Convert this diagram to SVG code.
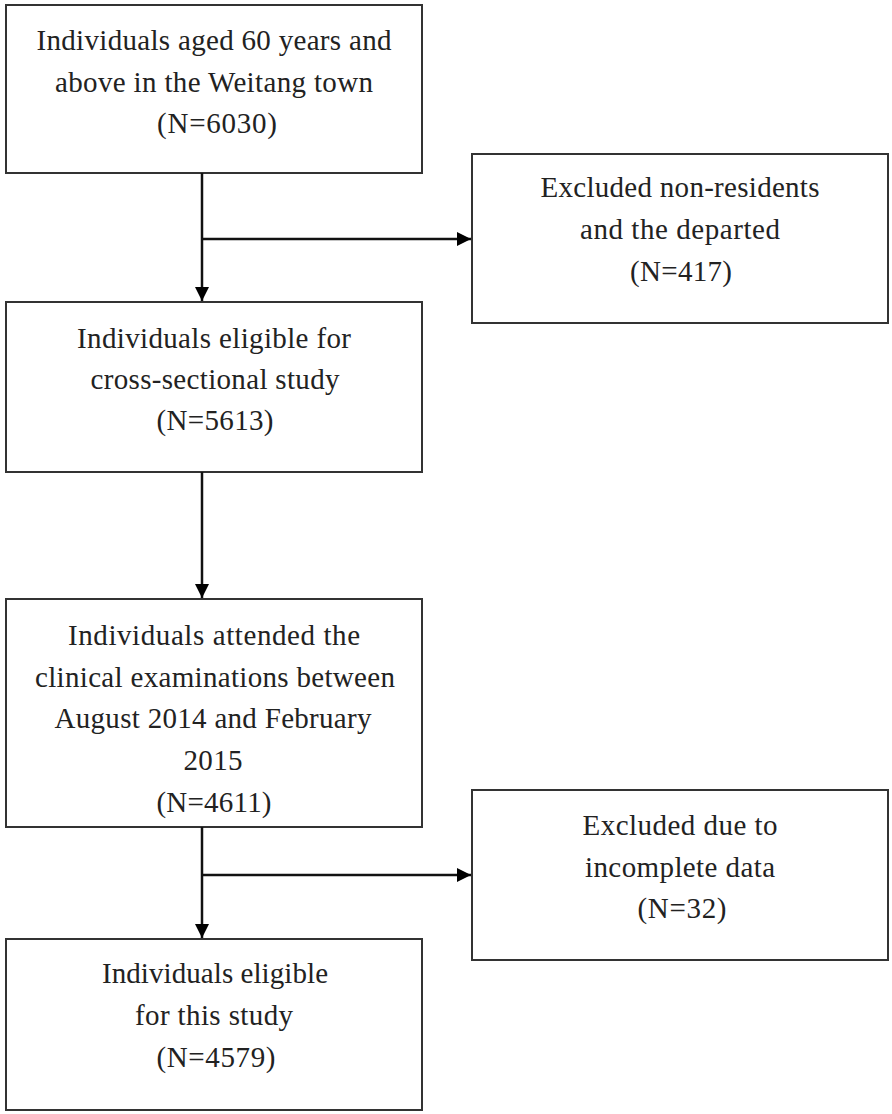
<svg xmlns="http://www.w3.org/2000/svg" width="892" height="1114" viewBox="0 0 892 1114">
<defs>
<marker id="arr" markerWidth="14" markerHeight="14" refX="14" refY="7" orient="auto" markerUnits="userSpaceOnUse">
<path d="M0,0 L14,7 L0,14 Z" fill="#000"/>
</marker>
<style>
.box{fill:#fff;stroke:#333;stroke-width:2}
.t{font-family:"Liberation Serif","Times New Roman",serif;font-size:29px;fill:#222;text-anchor:middle}
.c{fill:none;stroke:#111;stroke-width:2.5}
</style>
</defs>
<rect width="892" height="1114" fill="#fff"/>
<g id="n1"><rect class="box" x="6" y="5" width="416" height="168"/>
<text class="t" x="214" y="50" textLength="355">Individuals aged 60 years and</text>
<text class="t" x="214" y="92" textLength="318">above in the Weitang town</text>
<text class="t" x="217" y="133" textLength="120">(N=6030)</text></g>
<g id="n2"><rect class="box" x="472" y="154" width="416" height="169"/>
<text class="t" x="680" y="197" textLength="279">Excluded non-residents</text>
<text class="t" x="680" y="239" textLength="200">and the departed</text>
<text class="t" x="681" y="281" textLength="102">(N=417)</text></g>
<g id="n3"><rect class="box" x="6" y="302" width="416" height="170"/>
<text class="t" x="214" y="348" textLength="274">Individuals eligible  for</text>
<text class="t" x="215" y="389" textLength="249">cross-sectional  study</text>
<text class="t" x="215" y="430" textLength="117">(N=5613)</text></g>
<g id="n4"><rect class="box" x="6" y="599" width="416" height="228"/>
<text class="t" x="214" y="645" textLength="292">Individuals attended the</text>
<text class="t" x="215" y="687" textLength="360">clinical  examinations  between</text>
<text class="t" x="213" y="728" textLength="317">August 2014 and February</text>
<text class="t" x="213" y="770" textLength="59">2015</text>
<text class="t" x="214" y="812" textLength="115">(N=4611)</text></g>
<g id="n5"><rect class="box" x="472" y="790" width="416" height="170"/>
<text class="t" x="680" y="835" textLength="195">Excluded due to</text>
<text class="t" x="680" y="877" textLength="190">incomplete data</text>
<text class="t" x="682" y="918" textLength="89">(N=32)</text></g>
<g id="n6"><rect class="box" x="6" y="939" width="416" height="171"/>
<text class="t" x="215" y="983" textLength="226">Individuals eligible</text>
<text class="t" x="214" y="1025" textLength="158">for this study</text>
<text class="t" x="216" y="1067" textLength="119">(N=4579)</text></g>
<g id="connectors">
<line class="c" x1="202" y1="173" x2="202" y2="301" marker-end="url(#arr)"/>
<line class="c" x1="202" y1="239" x2="471" y2="239" marker-end="url(#arr)"/>
<line class="c" x1="202" y1="472" x2="202" y2="598" marker-end="url(#arr)"/>
<line class="c" x1="202" y1="827" x2="202" y2="938" marker-end="url(#arr)"/>
<line class="c" x1="202" y1="875" x2="471" y2="875" marker-end="url(#arr)"/>
</g>
</svg>
